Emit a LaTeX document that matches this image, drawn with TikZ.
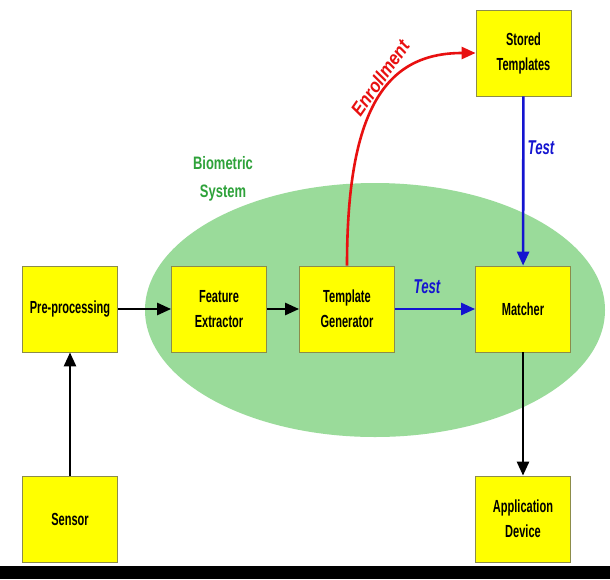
\documentclass[tikz,border=0pt]{standalone}
\usepackage{fontspec}
\setmainfont{Liberation Sans}[FakeStretch=0.63]
\newfontfamily\biofont{Liberation Sans}[FakeStretch=0.72]
\newfontfamily\enrfont{Liberation Sans}[FakeStretch=0.88]
\newfontfamily\testfont{Liberation Sans}[FakeStretch=0.66]
\usetikzlibrary{arrows.meta}
\definecolor{boxfill}{HTML}{FFFF00}
\definecolor{boxline}{HTML}{8C8C4A}
\definecolor{ellfill}{HTML}{9ADB9A}
\definecolor{grntext}{HTML}{2EA23A}
\definecolor{testblue}{HTML}{1414D0}
\definecolor{enrred}{HTML}{E81010}
\begin{document}
\begin{tikzpicture}[x=1pt,y=-1pt,
  blk/.style={draw=boxline,line width=0.8pt,fill=boxfill,minimum width=95pt,minimum height=86pt,
    align=center,font=\fontsize{17.5}{25}\selectfont\bfseries,inner sep=0pt},
  arr/.style={line width=2.6pt,-{Triangle[length=14pt,width=12pt]}},
  lbl/.style={font=\testfont\fontsize{20}{25}\selectfont\bfseries\itshape}]
\useasboundingbox (0,0) rectangle (610,579);
\fill[white] (0,0) rectangle (610,579);
\fill[black] (0,566) rectangle (610,579);
\fill[ellfill] (375,310) ellipse [x radius=230, y radius=127];
\node[text=grntext,align=center,font=\biofont\fontsize{18}{28}\selectfont\bfseries] (bio) at (223,179) {Biometric\\System};
\node[blk] (pre) at (70,309) {Pre-processing};
\node[blk] (feat) at (219,309) {Feature\\Extractor};
\node[blk] (tmpl) at (347,309) {Template\\Generator};
\node[blk] (match) at (523,309) {Matcher};
\node[blk] (stored) at (523.5,53) {Stored\\Templates};
\node[blk] (sensor) at (70,519) {Sensor};
\node[blk] (app) at (523,519) {Application\\Device};
\draw[arr] (pre) -- (feat);
\draw[arr] (feat) -- (tmpl);
\draw[arr] (sensor) -- (pre);
\draw[arr] (match) -- (app);
\draw[arr,testblue] (tmpl) -- (match);
\draw[arr,testblue] (stored) -- (match);
\draw[arr,enrred] (tmpl.north) .. controls (347,110) and (385,53) .. (stored.west);
\node[font=\enrfont\fontsize{19}{25}\selectfont\bfseries\itshape,text=enrred,rotate=55] (enr) at (380,78) {Enrollment};
\node[lbl,text=testblue] (t1) at (427,287) {Test};
\node[lbl,text=testblue] (t2) at (541,148) {Test};
\end{tikzpicture}
\end{document}
